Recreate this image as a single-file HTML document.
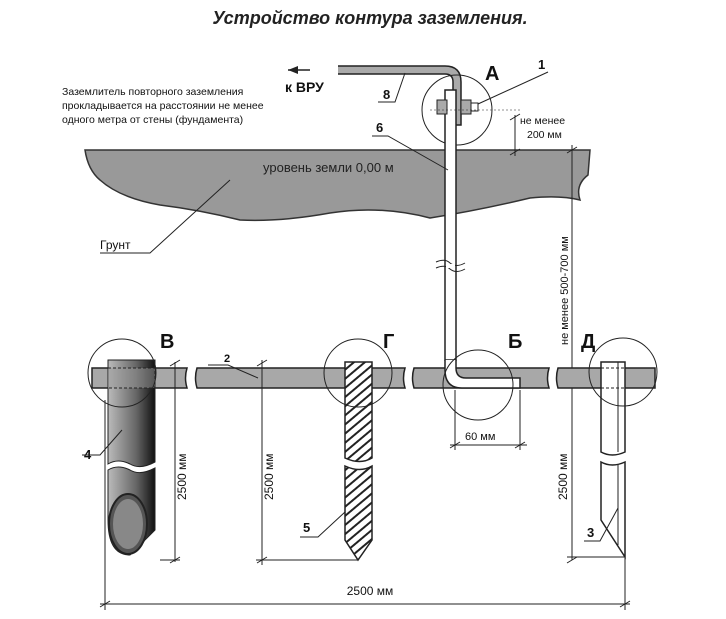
<!DOCTYPE html>
<html><head><meta charset="utf-8"><style>
html,body{margin:0;padding:0;background:#fff;}
svg{display:block;font-family:"Liberation Sans",sans-serif;}
</style></head><body>
<svg width="726" height="619" viewBox="0 0 726 619" xmlns="http://www.w3.org/2000/svg">
<defs>
<pattern id="hat" width="7" height="7" patternUnits="userSpaceOnUse" patternTransform="rotate(-40)">
<rect width="7" height="7" fill="#fff"/><rect width="7" height="2" fill="#222"/>
</pattern>
<linearGradient id="pipe" x1="0" x2="1">
<stop offset="0" stop-color="#bbb"/><stop offset="0.6" stop-color="#666"/><stop offset="1" stop-color="#111"/>
</linearGradient>
</defs>
<text x="370" y="24" text-anchor="middle" font-size="18" font-weight="bold" font-style="italic" fill="#222">Устройство контура заземления.</text>

<!-- ground -->
<path d="M85 150 L590 150 L588 175 Q575 185 580 200 Q560 195 530 198 Q480 210 430 218 Q380 205 330 213 Q280 222 240 220 Q200 210 160 205 Q120 198 100 180 Q88 170 85 150Z" fill="#999" stroke="#333" stroke-width="1.5"/>
<text x="263" y="172" font-size="13" fill="#222">уровень земли 0,00 м</text>

<!-- text left -->
<text x="62" y="95" font-size="10.5" fill="#111">Заземлитель повторного заземления</text>
<text x="62" y="109" font-size="10.5" fill="#111">прокладывается на расстоянии не менее</text>
<text x="62" y="123" font-size="10.5" fill="#111">одного метра от стены (фундамента)</text>
<text x="100" y="249" font-size="12" fill="#111">Грунт</text>
<path d="M100 253 L150 253 L230 180" fill="none" stroke="#222"/>

<!-- conductor 8 -->
<path d="M338 66 L445 66 Q461 66 461 82 L461 125 L453 125 L453 82 Q453 74 445 74 L338 74" fill="#aaa" stroke="#222" stroke-width="1.5"/>
<path d="M310 70 L288 70" stroke="#222" stroke-width="1.5"/><path d="M288 70 L298 66 L298 74Z" fill="#222"/>
<text x="285" y="92" font-size="14" font-weight="bold" fill="#111">к ВРУ</text>
<text x="383" y="99" font-size="13" font-weight="bold" fill="#111">8</text>
<path d="M378 102 L395 102 L405 73" fill="none" stroke="#222"/>
<text x="485" y="80" font-size="20" font-weight="bold" fill="#111">А</text>
<text x="538" y="69" font-size="13" font-weight="bold" fill="#111">1</text>
<path d="M548 72 L478 104" stroke="#222"/>
<circle cx="457" cy="110" r="35" fill="none" stroke="#222"/>
<!-- strip 6 -->
<path d="M445 90 L456 90 L456 360 L445 360Z" fill="#fff" stroke="#222" stroke-width="1.5"/>
<rect x="437" y="100" width="10" height="14" fill="#aaa" stroke="#222"/>
<rect x="461" y="100" width="10" height="14" fill="#aaa" stroke="#222"/>
<rect x="471" y="103" width="7" height="8" fill="#fff" stroke="#222"/>
<path d="M430 110 L520 110" stroke="#222" stroke-width="0.6" stroke-dasharray="2 2"/>
<text x="376" y="132" font-size="13" font-weight="bold" fill="#111">6</text>
<path d="M372 136 L388 136 L448 170" fill="none" stroke="#222"/>
<path d="M436 262 Q445 258 450 263 Q456 268 465 263 M436 268 Q445 264 450 269 Q456 274 465 269" fill="none" stroke="#222"/>
<rect x="446" y="264" width="9" height="4" fill="#fff"/>
<!-- 200mm dim -->
<path d="M515 115 L515 156 M510 120 L520 114 M510 155 L520 149" stroke="#222"/>
<text x="520" y="124" font-size="10.5" fill="#111">не менее</text>
<text x="527" y="138" font-size="10.5" fill="#111">200 мм</text>
<!-- 500-700 -->
<path d="M572 145 L572 560 M567 153 L577 147" stroke="#222"/>
<text transform="translate(568,345) rotate(-90)" font-size="11" fill="#111">не менее 500-700 мм</text>

<!-- horizontal strip 2 -->
<g fill="#a8a8a8" stroke="#222" stroke-width="1.5">
<path d="M92 368 L187 368 Q184 378 187 388 L92 388Z"/>
<path d="M197 368 L405 368 Q402 378 405 388 L197 388 Q194 378 197 368Z"/>
<path d="M414 368 L549 368 Q546 378 549 388 L414 388 Q411 378 414 368Z"/>
<path d="M558 368 L655 368 L655 388 L558 388 Q555 378 558 368Z"/>
</g>
<!-- Б hook -->
<path d="M445 360 L445 370 Q445 388 462 388 L520 388 L520 378 L466 378 Q456 378 456 368 L456 360" fill="#fff" stroke="#222" stroke-width="1.5"/>
<circle cx="478" cy="385" r="35" fill="none" stroke="#222"/>
<text x="508" y="348" font-size="20" font-weight="bold" fill="#111">Б</text>
<path d="M455 390 L455 450 M520 390 L520 450 M450 445 L527 445 M450 448 L460 442 M515 448 L525 442" stroke="#222"/>
<text x="465" y="440" font-size="11" fill="#111">60 мм</text>

<!-- pipe 4 -->
<path d="M108 360 L155 360 L155 462 Q140 470 130 464 Q118 458 108 464Z" fill="url(#pipe)" stroke="#222"/>
<path d="M108 470 Q118 464 130 470 Q140 476 155 468 L155 530 L130 555 Q108 555 108 520Z" fill="url(#pipe)" stroke="#222"/>
<ellipse cx="128" cy="524" rx="19" ry="30" fill="#555" stroke="#222" stroke-width="2"/>
<ellipse cx="128" cy="524" rx="15" ry="25" fill="#888"/>
<path d="M108 368 L155 368 L155 388 L108 388" fill="#999" fill-opacity="0.5" stroke="#222" stroke-dasharray="3 2"/>
<circle cx="122" cy="373" r="34" fill="none" stroke="#222"/>
<text x="160" y="348" font-size="20" font-weight="bold" fill="#111">В</text>
<text x="84" y="459" font-size="13" font-weight="bold" fill="#111">4</text>
<path d="M82 455 L100 455 L122 430" fill="none" stroke="#222"/>
<path d="M175 362 L175 562 M160 560 L180 560 M170 366 L180 360 M170 563 L180 557" stroke="#222"/>
<text transform="translate(186,500) rotate(-90)" font-size="12" fill="#111">2500 мм</text>
<text x="224" y="362" font-size="11" font-weight="bold" fill="#111">2</text>
<path d="M208 365 L228 365 L258 378" fill="none" stroke="#222"/>
<!-- rebar 5 -->
<path d="M345 362 L372 362 L372 458 Q360 465 345 458Z" fill="url(#hat)" stroke="#222" stroke-width="1.5"/>
<path d="M345 466 Q360 473 372 466 L372 540 L358 560 L345 540Z" fill="url(#hat)" stroke="#222" stroke-width="1.5"/>
<circle cx="358" cy="373" r="34" fill="none" stroke="#222"/>
<text x="383" y="348" font-size="20" font-weight="bold" fill="#111">Г</text>
<text x="303" y="532" font-size="13" font-weight="bold" fill="#111">5</text>
<path d="M300 537 L318 537 L345 512" fill="none" stroke="#222"/>
<path d="M262 360 L262 565 M256 560 L358 560 M257 366 L267 360 M257 563 L267 557" stroke="#222"/>
<text transform="translate(273,500) rotate(-90)" font-size="12" fill="#111">2500 мм</text>
<!-- angle 3 -->
<path d="M601 362 L625 362 L625 452 Q612 458 601 452Z" fill="#fff" stroke="#222" stroke-width="1.5"/>
<path d="M601 462 Q612 468 625 462 L625 557 L601 520Z" fill="#fff" stroke="#222" stroke-width="1.5"/>
<path d="M618 362 L618 452 M618 464 L618 545" stroke="#222"/>
<path d="M601 368 L650 368 M601 388 L650 388" stroke="#222" stroke-dasharray="3 2"/>
<circle cx="623" cy="372" r="34" fill="none" stroke="#222"/>
<text x="581" y="348" font-size="20" font-weight="bold" fill="#111">Д</text>
<text x="587" y="537" font-size="13" font-weight="bold" fill="#111">3</text>
<path d="M584 541 L600 541 L618 508" fill="none" stroke="#222"/>
<path d="M567 557 L625 557 M567 563 L577 557" stroke="#222"/>
<text transform="translate(567,500) rotate(-90)" font-size="12" fill="#111">2500 мм</text>
<!-- bottom dim -->
<path d="M105 400 L105 610 M625 557 L625 610 M100 604 L630 604 M100 607 L110 601 M620 607 L630 601" stroke="#222"/>
<text x="370" y="595" text-anchor="middle" font-size="12" fill="#111">2500 мм</text>
</svg>
</body></html>
